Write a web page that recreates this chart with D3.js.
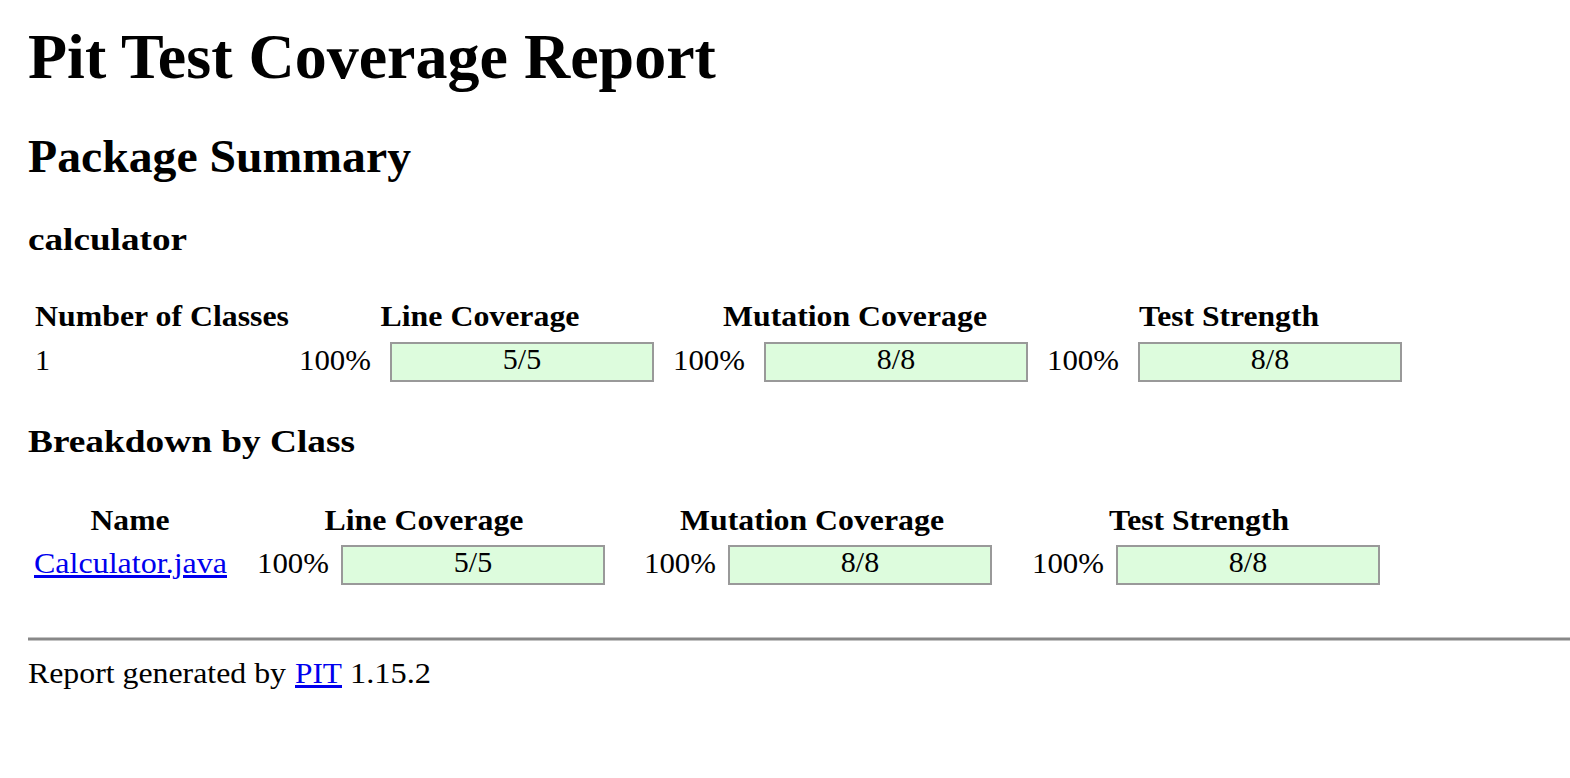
<!DOCTYPE html>
<html><head><meta charset="utf-8">
<script src="https://cdn.jsdelivr.net/npm/d3@7"></script>
<style>body{margin:0;background:#fff}svg{display:block}text{font-family:"Liberation Serif","Times New Roman",serif}</style>
</head><body>
<script>
const metrics = ["Line Coverage","Mutation Coverage","Test Strength"];
const metricWidths = [199,264,180];
const pkgName = "calculator";
const pkgClasses = 1;
const pkgPercent = [100,100,100];
const pkgFraction = ["5/5","8/8","8/8"];
const className = "Calculator.java";
const clsPercent = [100,100,100];
const clsFraction = ["5/5","8/8","8/8"];
const pitVersion = "1.15.2";

const svg = d3.select("body").append("svg").attr("width",1570).attr("height",778);
const fill = d3.scaleLinear().domain([0,100]).range([0,262]);

function t(x,y,s,size,weight,anchor,color,w){
  const e = svg.append("text").attr("x",x).attr("y",y).attr("font-size",size)
   .attr("font-weight",weight||"normal").attr("text-anchor",anchor||"start")
   .attr("fill",color||"#000").text(s);
  if(w) e.attr("textLength",w).attr("lengthAdjust","spacingAndGlyphs");
  return e;
}
t(28,78,"Pit Test Coverage Report",64,"bold");
t(28,172,"Package Summary",46,"bold",null,null,383);
t(28,250,pkgName,32,"bold",null,null,159);
t(35,326,"Number of Classes",30,"bold",null,null,254);
t(28,452,"Breakdown by Class",32,"bold",null,null,327);
t(130,530,"Name",30,"bold","middle",null,79);

function row(y, pctEnd, barX, hdrX, hdrY, pcts, fracs){
  metrics.forEach((m,i)=>{
    t(hdrX[i],hdrY,m,30,"bold","middle",null,metricWidths[i]);
    t(pctEnd[i],y+27,pcts[i]+"%",30,"normal","end",null,72);
    svg.append("rect").attr("x",barX[i]).attr("y",y).attr("width",262).attr("height",38)
      .attr("fill","#fff").attr("stroke","#999").attr("stroke-width",2);
    svg.append("rect").attr("x",barX[i]+1).attr("y",y+1).attr("width",fill(pcts[i])-2).attr("height",36)
      .attr("fill","#ddfcdd");
    t(barX[i]+131,y+26,fracs[i],30,"normal","middle");
  });
}
t(35,370,String(pkgClasses),30);
row(343,[371,745,1119],[391,765,1139],[480,855,1229],326,pkgPercent,pkgFraction);
t(34,573,className,30,"normal","start","#0000ee",193).attr("text-decoration","underline");
row(546,[329,716,1104],[342,729,1117],[424,812,1199],530,clsPercent,clsFraction);

svg.append("line").attr("x1",28).attr("x2",1570).attr("y1",639).attr("y2",639)
  .attr("stroke","#888").attr("stroke-width",3);
t(28,683,"Report generated by",30,"normal",null,null,258);
t(295,683,"PIT",30,"normal",null,"#0000ee",47).attr("text-decoration","underline");
t(350,683,pitVersion,30,"normal",null,null,81);
</script>
</body></html>
